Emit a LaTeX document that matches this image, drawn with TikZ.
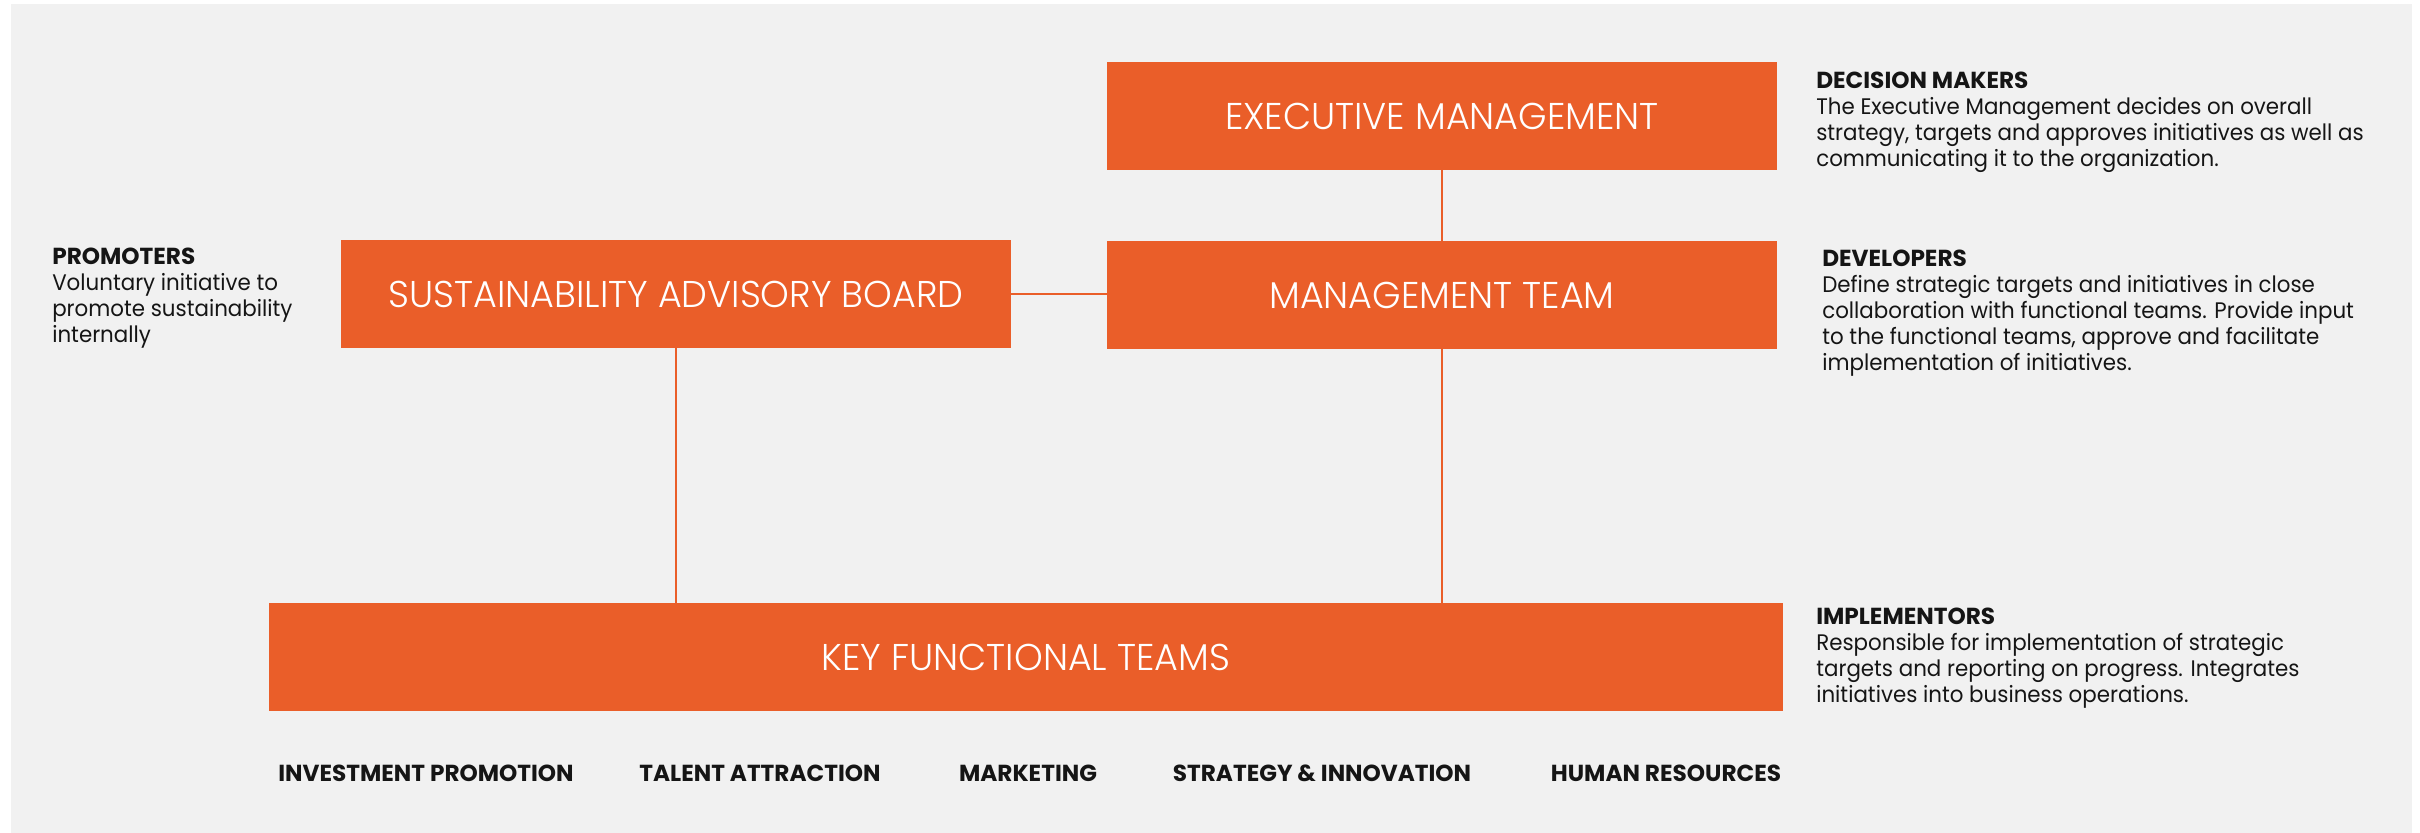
\documentclass[tikz,border=0pt]{standalone}
\usepackage{fontspec}
\setmainfont{Poppins}[FakeStretch=0.95]
\newfontfamily\headfont{Poppins}[FakeStretch=1.0]
\newfontfamily\boxfont{Poppins Light}[FakeStretch=0.98]
\usepackage{xcolor}
\usetikzlibrary{positioning}
\definecolor{orgOrange}{HTML}{EA5E29}
\definecolor{orgInk}{HTML}{151515}
\definecolor{orgPanel}{HTML}{F1F1F1}
\newcommand{\rolehead}[1]{{\headfont\bfseries\fontsize{16.5}{18.5}\selectfont #1}}
\tikzset{
  org diagram/.style={x=0.025cm, y=-0.025cm, text=orgInk,
    line cap=round, line join=round},
  org box/.style={fill=orgOrange, text=white, inner sep=0pt,
    minimum width=16.75cm, minimum height=2.7cm,
    font=\boxfont\fontsize{26.5}{30}\selectfont},
  org wide box/.style={org box, minimum width=37.85cm},
  org link/.style={draw=orgOrange, line width=1pt},
  org role/.style={anchor=north west, align=left, inner sep=0pt,
    font=\fontsize{16}{18.5}\selectfont},
  org team/.style={anchor=base, inner sep=0pt,
    font=\headfont\bfseries\fontsize{16.5}{18}\selectfont}
}

\begin{document}
\begin{tikzpicture}[org diagram]
% page and panel
\fill[white] (0,0) rectangle (2420,833);
\fill[orgPanel] (11,4) rectangle (2412,833);
\useasboundingbox (0,0) rectangle (2420,833);

% boxes
\node[org box] (exec) at (1442,116) {EXECUTIVE MANAGEMENT};
\node[org box] (mgmt) at (1442,295) {MANAGEMENT TEAM};
\node[org box] (board) at (676,294) {SUSTAINABILITY ADVISORY BOARD};
\node[org wide box] (teams) at (1026,657) {KEY FUNCTIONAL TEAMS};

% links
\draw[org link] (exec.south) -- (mgmt.north);
\draw[org link] (board.east) -- (board.east -| mgmt.west);
\draw[org link] (board.south) -- (board.south |- teams.north);
\draw[org link] (mgmt.south) -- (mgmt.south |- teams.north);

% roles
\node[org role] (deciders) at (1816,72) {\rolehead{DECISION MAKERS}\\
  The Executive Management decides on overall\\
  strategy, targets and approves initiatives as well as\\
  communicating it to the organization.};
\node[org role] (developers) at (1822,250) {\rolehead{DEVELOPERS}\\
  Define strategic targets and initiatives in close\\
  collaboration with functional teams. Provide input\\
  to the functional teams, approve and facilitate\\
  implementation of initiatives.};
\node[org role] (promoters) at (52,248) {\rolehead{PROMOTERS}\\
  Voluntary initiative to\\
  promote sustainability\\
  internally};
\node[org role] (implementors) at (1816,608) {\rolehead{IMPLEMENTORS}\\
  Responsible for implementation of strategic\\
  targets and reporting on progress. Integrates\\
  initiatives into business operations.};

% functional teams
\node[org team] (invest) at (426,781) {INVESTMENT PROMOTION};
\node[org team] (talent) at (760,781) {TALENT ATTRACTION};
\node[org team] (marketing) at (1028,781) {MARKETING};
\node[org team] (strategy) at (1322,781) {STRATEGY \& INNOVATION};
\node[org team] (hr) at (1666,781) {HUMAN RESOURCES};
\end{tikzpicture}
\end{document}
